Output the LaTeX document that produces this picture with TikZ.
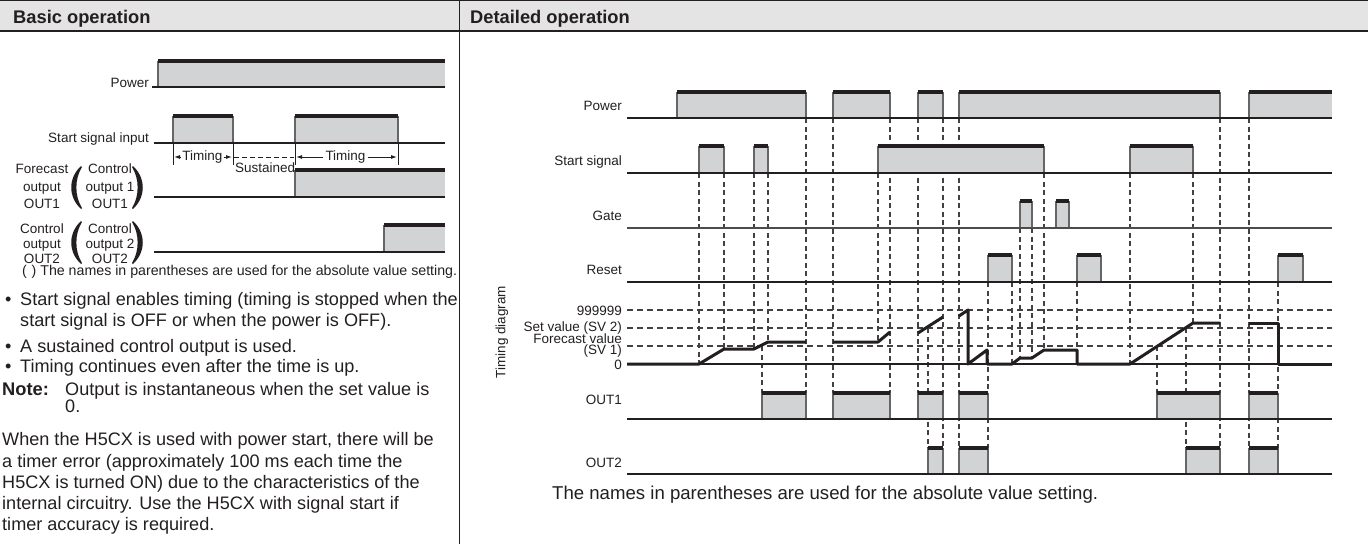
\documentclass[tikz,border=0pt]{standalone}
\usepackage{fontspec}
\setmainfont{Liberation Sans}
\usetikzlibrary{arrows.meta}
\definecolor{pfill}{RGB}{209,211,212}
\definecolor{hdr}{RGB}{228,228,228}
\definecolor{ink}{RGB}{35,31,32}
\newcommand\pulse[4]{%
  \fill[pfill] (#1,#3) rectangle (#2,#4);
  \draw[pedge] (#1,#4)--(#1,#3) (#2,#3)--(#2,#4);
  \draw[ptop] (#1,#3)--(#2,#3);}
\newcommand\pulseopen[4]{%
  \fill[pfill] (#1,#3) rectangle (#2,#4);
  \draw[pedge] (#1,#4)--(#1,#3);
  \draw[ptop] (#1,#3)--(#2,#3);}
\tikzset{
  lab/.style={font=\fontsize{13.5}{15}\selectfont, inner sep=0pt, text=ink},
  smallcap/.style={font=\fontsize{14.2}{16}\selectfont, inner sep=0pt, anchor=base west, text=ink},
  body/.style={font=\fontsize{18.1}{21}\selectfont, inner sep=0pt, anchor=base west, text=ink},
  bigcap/.style={font=\fontsize{18.6}{21}\selectfont, inner sep=0pt, anchor=base west, text=ink},
  hd/.style={font=\fontsize{18.3}{21}\selectfont\bfseries, inner sep=0pt, anchor=base west, text=ink},
  baseln/.style={line width=1.3pt, draw=ink},
  vdash/.style={line width=1.1pt, draw=ink!85, dash pattern=on 5pt off 3.5pt},
  hdash/.style={line width=1.1pt, draw=ink!85, dash pattern=on 6pt off 4pt},
  tline/.style={line width=3pt, draw=ink, line join=round},
  ptop/.style={line width=3.6pt, draw=ink},
  pedge/.style={line width=1.3pt, draw=black!60},
  tick/.style={line width=1pt, draw=ink},
  arr/.style={line width=1pt, draw=ink, -{Latex[length=6pt,width=4pt]}},
  paren/.style={fill=ink, draw=none},
}
\begin{document}
\begin{tikzpicture}[x=1pt,y=-1pt]
\useasboundingbox (0,0) rectangle (1368,544);
% header
\fill[hdr] (0,0) rectangle (1368,31);
\draw[line width=2pt, ink] (0,31)--(1368,31);
\draw[line width=1pt, ink] (0,0.5)--(1368,0.5);
\draw[line width=1.3pt, ink] (459.5,0)--(459.5,544);
\node[hd] (h1) at (13,23) {Basic operation};
\node[hd] (h2) at (470,23) {Detailed operation};

% ================= LEFT: basic operation =================
\node[lab, anchor=base east] (lp) at (149,87) {Power};
\pulseopen{158}{445}{61}{87}
\draw[baseln] (152,87)--(445,87);

\node[lab, anchor=base east] (ls) at (149,142) {Start signal input};
\pulse{173}{233}{116}{143}
\pulse{295}{398}{116}{143}
\draw[baseln] (154,143)--(445,143);

% timing arrows
\foreach \xx in {173,233,295,398} \draw[tick] (\xx,143)--(\xx,165);
\node[lab] (t1) at (202.5,157) {Timing};
\draw[arr] (t1.west) ++(-1,0) -- (174,157);
\draw[arr] (t1.east) ++(1,0) -- (232,157);
\draw[line width=1pt, ink, dash pattern=on 5pt off 3pt] (234,157)--(294,157);
\node[lab] (t2) at (345.5,157) {Timing};
\draw[arr] (t2.west) ++(-2,0) -- (296,157);
\draw[arr] (t2.east) ++(2,0) -- (397,157);
\node[lab, anchor=base west] (sus) at (235,172) {Sustained};

% OUT1
\pulseopen{295}{445}{170}{197}
\draw[baseln] (154,197)--(445,197);
\node[lab, anchor=base] (f1) at (42,173) {Forecast};
\node[lab, anchor=base] (f2) at (42,191) {output};
\node[lab, anchor=base] (f3) at (42,208) {OUT1};
\node[lab, anchor=base] (c1) at (110,173) {Control};
\node[lab, anchor=base] (c2) at (110,191) {output 1};
\node[lab, anchor=base] (c3) at (110,208) {OUT1};
\fill[paren] (81,166) .. controls (68,178) and (68,197) .. (81,209) -- (82,208) .. controls (74.5,196) and (74.5,179) .. (82,167) -- cycle;
\fill[paren] (133,166) .. controls (146,178) and (146,197) .. (133,209) -- (132,208) .. controls (139.5,196) and (139.5,179) .. (132,167) -- cycle;

% OUT2
\pulseopen{384}{445}{225}{252}
\draw[baseln] (154,252)--(445,252);
\node[lab, anchor=base] (g1) at (42,233) {Control};
\node[lab, anchor=base] (g2) at (42,248) {output};
\node[lab, anchor=base] (g3) at (42,263) {OUT2};
\node[lab, anchor=base] (d1) at (110,233) {Control};
\node[lab, anchor=base] (d2) at (110,248) {output 2};
\node[lab, anchor=base] (d3) at (110,263) {OUT2};
\fill[paren] (81,221) .. controls (68,233) and (68,252) .. (81,264) -- (82,263) .. controls (74.5,251) and (74.5,234) .. (82,222) -- cycle;
\fill[paren] (133,221) .. controls (146,233) and (146,252) .. (133,264) -- (132,263) .. controls (139.5,251) and (139.5,234) .. (132,222) -- cycle;

\node[smallcap] (cap1) at (22,275) {(\,\,) The names in parentheses are used for the absolute value setting.};

% bullets / text
\node[body] (b1a) at (5,305) {\textbullet};
\node[body] (b1) at (20,305) {Start signal enables timing (timing is stopped when the};
\node[body] (b1b) at (20,326) {start signal is OFF or when the power is OFF).};
\node[body] (b2a) at (5,352) {\textbullet};
\node[body] (b2) at (20,352) {A sustained control output is used.};
\node[body] (b3a) at (5,372) {\textbullet};
\node[body] (b3) at (20,372) {Timing continues even after the time is up.};
\node[hd] (note) at (2,395) {Note:};
\node[body] (n1) at (65,395) {Output is instantaneous when the set value is};
\node[body] (n2) at (65,412) {0.};
\node[body] (p1) at (2,445) {When the H5CX is used with power start, there will be};
\node[body] (p2) at (2,467) {a timer error (approximately 100 ms each time the};
\node[body] (p3) at (2,488) {H5CX is turned ON) due to the characteristics of the};
\node[body] (p4) at (2,509) {internal circuitry. Use the H5CX with signal start if};
\node[body] (p5) at (2,530) {timer accuracy is required.};

% ================= RIGHT: detailed operation =================
% dashed level lines
\draw[hdash] (627,310)--(1332,310);
\draw[hdash] (627,328)--(1332,328);
\draw[hdash] (627,346)--(1332,346);

% vertical dashed lines
\foreach \xx/\ya/\yb in {699/173/364, 724/173/349, 754/173/349, 768/173/342, 762/346/393,
  806/118/393, 833/118/393, 878/173/342, 890/118/393, 918/118/393, 928/328/448,
  943/118/448, 959/118/448, 988/282/448, 1012/282/364, 1020/228/358, 1032/228/358,
  1044/173/350, 1077/282/350, 1130/173/364, 1157/346/393, 1186/328/448, 1193/173/323,
  1220/118/448, 1249/118/448, 1278/282/448}
  \draw[vdash] (\xx,\ya)--(\xx,\yb);

% Power
\node[lab, anchor=base east] (rp) at (622,110) {Power};
\pulse{677}{806}{92}{118}
\pulse{833}{890}{92}{118}
\pulse{918}{943}{92}{118}
\pulse{959}{1220}{92}{118}
\pulseopen{1249}{1332}{92}{118}
\draw[baseln] (627,118)--(1332,118);

% Start signal
\node[lab, anchor=base east] (rs) at (622,165) {Start signal};
\pulse{699}{724}{146}{173}
\pulse{754}{768}{146}{173}
\pulse{878}{1044}{146}{173}
\pulse{1130}{1193}{146}{173}
\draw[baseln] (627,173)--(1332,173);

% Gate
\node[lab, anchor=base east] (rg) at (622,220) {Gate};
\pulse{1020}{1032}{201}{228}
\pulse{1056}{1069}{201}{228}
\draw[baseln, draw=black!70] (627,228)--(1332,228);

% Reset
\node[lab, anchor=base east] (rr) at (622,274) {Reset};
\pulse{988}{1012}{255}{282}
\pulse{1077}{1101}{255}{282}
\pulse{1278}{1303}{255}{282}
\draw[baseln] (627,282)--(1332,282);

% Timing diagram
\node[lab, rotate=90] (td) at (502,332) {Timing diagram};
\node[lab, anchor=base east] (v9) at (622,315) {999999};
\node[lab, anchor=base east] (vs2) at (622,331) {Set value (SV 2)};
\node[lab, anchor=base east] (vf) at (622,343) {Forecast value};
\node[lab, anchor=base east] (vs1) at (622,354) {(SV 1)};
\node[lab, anchor=base east] (v0) at (622,369) {0};
\draw[baseln] (627,364)--(1332,364);
\draw[tline] (627,364)--(699,364)--(724,349)--(754,349)--(768,342)--(806,342);
\draw[tline] (833,342)--(878,342)--(890,332);
\draw[tline] (918,333)--(943,317);
\draw[tline] (959,316)--(968,310)--(968,364)--(987,350)--(987,364)--(1012,364)--(1020,358)--(1032,358)--(1044,350)--(1077,350)--(1077,364)--(1130,364)--(1193,323)--(1220,323);
\draw[tline] (1249,323)--(1278,323)--(1278,364)--(1332,364);

% OUT1
\node[lab, anchor=base east] (ro1) at (622,404) {OUT1};
\pulse{762}{806}{393}{419}
\pulse{833}{890}{393}{419}
\pulse{918}{943}{393}{419}
\pulse{959}{988}{393}{419}
\pulse{1157}{1220}{393}{419}
\pulse{1249}{1278}{393}{419}
\draw[baseln] (627,419)--(1332,419);

% OUT2
\node[lab, anchor=base east] (ro2) at (622,467) {OUT2};
\pulse{928}{943}{448}{474}
\pulse{959}{988}{448}{474}
\pulse{1186}{1220}{448}{474}
\pulse{1249}{1278}{448}{474}
\draw[baseln] (627,474)--(1332,474);

\node[bigcap] (cap2) at (552,499) {The names in parentheses are used for the absolute value setting.};
\end{tikzpicture}
\end{document}
